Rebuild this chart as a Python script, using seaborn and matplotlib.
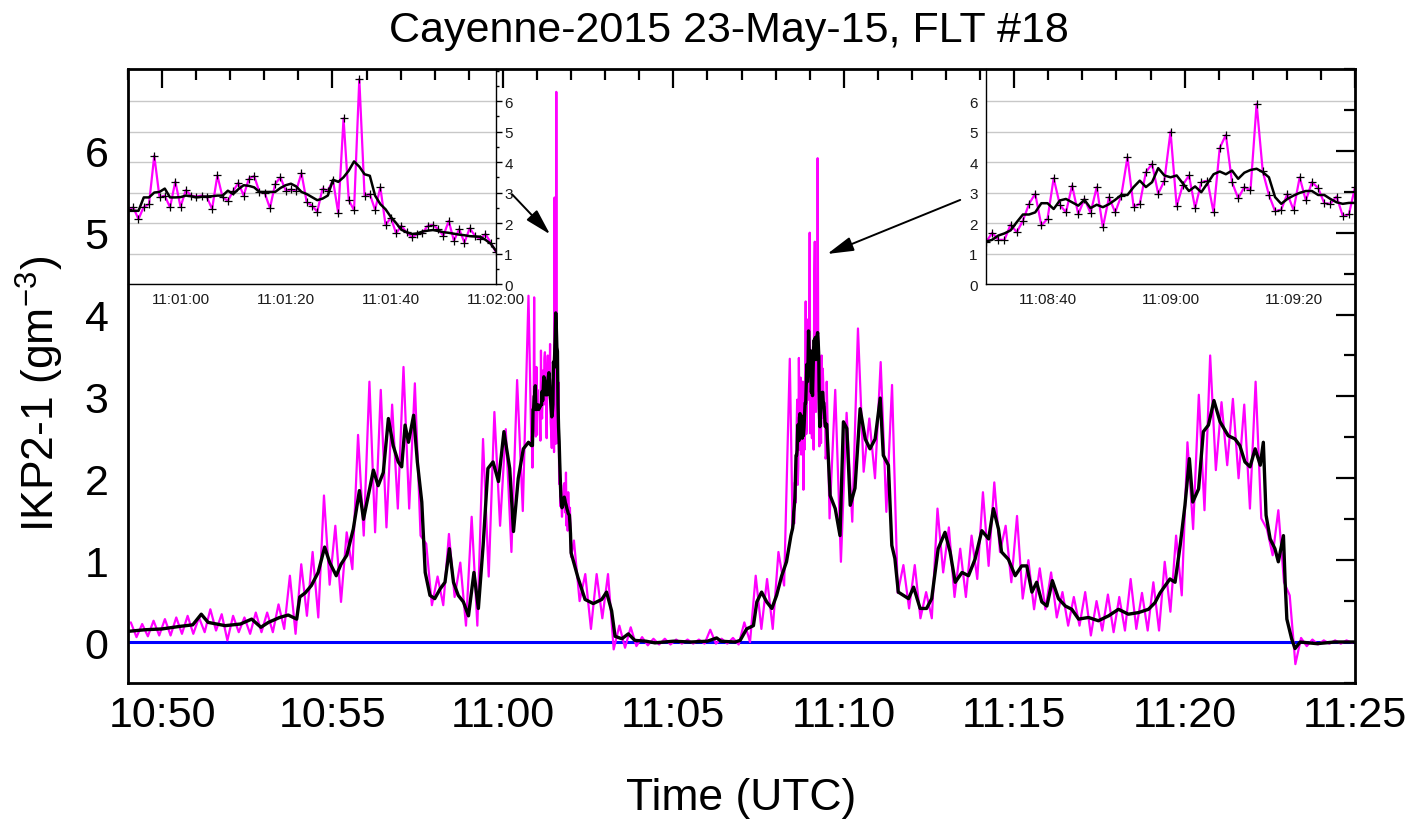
import numpy as np
import pandas as pd
import matplotlib
matplotlib.use("Agg")
import matplotlib.pyplot as plt
import matplotlib.dates as mdates
from matplotlib.ticker import FixedLocator, MultipleLocator
import seaborn as sns

sns.set_theme(style="white")
plt.rcParams["font.family"] = ["Liberation Sans", "DejaVu Sans"]
plt.rcParams["mathtext.fontset"] = "custom"
plt.rcParams["mathtext.rm"] = "Liberation Sans"
plt.rcParams["mathtext.it"] = "Liberation Sans:italic"
plt.rcParams["mathtext.bf"] = "Liberation Sans:bold"
plt.rcParams["text.color"] = "black"
plt.rcParams["axes.labelcolor"] = "black"

MAGENTA = "#FF00FF"
FLIGHT_START = "2015-05-23 10:49:00"

# ---- smoothed IKP2-1 water content (g m^-3), minutes after 10:49:00 ----
smooth_min = [
    0.00, 0.50, 1.00, 1.50, 1.90, 2.15, 2.35, 2.85, 3.30, 3.63, 3.90, 4.12, 4.45, 4.70,
    4.95, 5.04, 5.20, 5.38, 5.58, 5.77, 5.92, 6.11, 6.25, 6.42, 6.61, 6.79, 6.91, 7.05,
    7.20, 7.34, 7.49, 7.64, 7.78, 7.93, 8.03, 8.13, 8.23, 8.38, 8.49, 8.62, 8.72, 8.86,
    9.00, 9.16, 9.30, 9.43, 9.55, 9.69, 9.84, 9.99, 10.15, 10.28, 10.42, 10.56, 10.71,
    10.87, 11.03, 11.20, 11.31, 11.45, 11.60, 11.75,
    13.20, 13.41, 13.65, 13.90, 14.04, 14.19, 14.29, 14.49, 14.68, 14.87, 15.20, 15.46,
    16.00, 16.50, 17.00, 17.27, 17.40, 17.81, 17.96, 18.15, 18.35, 18.45, 18.59, 18.74,
    18.89, 19.03, 19.18, 19.32, 19.45,
    20.60, 20.75, 20.89, 20.99, 21.09, 21.19, 21.33, 21.48, 21.63, 21.77, 21.92, 22.07,
    22.16, 22.31, 22.41, 22.50, 22.60, 22.75, 22.90, 23.05, 23.24, 23.43, 23.58, 23.77,
    23.97, 24.12, 24.27, 24.47, 24.66, 24.85, 25.05, 25.25, 25.39, 25.54, 25.63, 25.83,
    26.03, 26.22, 26.37, 26.52, 26.66, 26.81, 26.96, 27.12, 27.30, 27.50, 27.69, 27.89,
    28.18, 28.47, 28.77, 29.06, 29.35, 29.65, 29.94, 30.13, 30.28, 30.57, 30.72, 30.87,
    31.01, 31.14, 31.24, 31.41, 31.55, 31.70, 31.86, 32.04, 32.28, 32.48, 32.62, 32.77,
    32.92, 33.07, 33.22, 33.31, 33.39, 33.51, 33.65, 33.75, 33.90, 33.95, 34.00, 34.14,
    34.24, 34.39, 34.88, 35.40, 36.00,
]
smooth_val = [
    0.13, 0.15, 0.16, 0.19, 0.21, 0.34, 0.24, 0.20, 0.22, 0.28, 0.18, 0.24, 0.30, 0.33,
    0.28, 0.55, 0.60, 0.69, 0.85, 1.16, 0.97, 0.81, 0.95, 1.06, 1.38, 1.85, 1.50, 1.79,
    2.10, 1.91, 2.07, 2.73, 2.40, 2.20, 2.14, 2.65, 2.44, 2.77, 2.20, 1.71, 0.85, 0.57,
    0.53, 0.65, 0.73, 1.14, 0.73, 0.57, 0.49, 0.32, 0.85, 0.41, 1.18, 2.12, 2.20,
    1.96, 2.57, 2.12, 1.35, 2.00, 2.36, 2.44,
    0.79, 0.52, 0.47, 0.52, 0.61, 0.38, 0.07, 0.04, 0.10, 0.02, 0.01, -0.01,
    0.01, 0.00, 0.01, 0.05, 0.01, 0.00, 0.02, 0.16, 0.20, 0.49, 0.61, 0.49,
    0.41, 0.57, 0.81, 0.98, 1.30,
    1.79, 1.63, 1.30, 2.69, 2.61, 1.67, 1.88, 2.85, 2.48, 2.36, 2.48, 2.98,
    2.28, 2.16, 1.18, 1.02, 0.61, 0.57, 0.53, 0.67, 0.41, 0.41, 0.53, 1.14,
    1.34, 1.10, 0.73, 0.85, 0.81, 1.01, 1.36, 1.26, 1.63, 1.38, 1.10, 1.01,
    0.81, 0.93, 0.93, 0.61, 0.73, 0.49, 0.44, 0.75, 0.53, 0.44, 0.40, 0.28,
    0.30, 0.26, 0.32, 0.40, 0.34, 0.36, 0.40, 0.48, 0.60, 0.77, 0.73, 1.18,
    1.67, 2.24, 1.71, 1.87, 2.57, 2.65, 2.95, 2.69, 2.52, 2.48, 2.40, 2.20,
    2.14, 2.36, 2.16, 2.44, 1.55, 1.26, 1.14, 0.98, 1.30, 0.73, 0.28, 0.04,
    -0.08, 0.00, -0.02, 0.00, 0.00,
]

# ---- raw IKP2-1 signal: high / low excursion in each 20-s window from 10:49:00 ----
raw_hi = [
    0.24, 0.22, 0.26,  0.28, 0.30, 0.32,  0.30, 0.40, 0.34,  0.32, 0.30, 0.36,
    0.36, 0.46, 0.81,  0.95, 1.10, 1.79,  1.42, 1.34, 2.53,  3.18, 3.08, 2.90,
    3.36, 3.16, 1.20,  0.80, 1.32, 0.97,  1.53, 2.48, 2.81,  2.60, 3.20, 4.23,
    3.66, 6.73, 2.10,  1.24, 0.83, 0.83,  0.83, 0.20, 0.18,  0.06, 0.04, 0.04,
    0.03, 0.03, 0.03,  0.15, 0.04, 0.05,  0.24, 0.81, 0.77,  1.10, 3.46, 4.99,
    5.91, 3.22, 3.08,  2.80, 3.83, 2.73,  3.42, 3.14, 0.94,  0.94, 0.61, 1.63,
    1.40, 1.14, 1.30,  1.83, 1.95, 1.42,  1.54, 1.00, 0.90,  0.85, 0.61, 0.55,
    0.61, 0.50, 0.58,  0.55, 0.77, 0.60,  0.73, 0.98, 1.30,  2.44, 3.02, 3.50,
    2.93, 2.97, 2.90,  3.18, 1.38, 1.61,  0.57, 0.05, 0.03,  0.02, 0.02, 0.02,
]
raw_lo = [
    0.06, 0.07, 0.08,  0.08, 0.10, 0.10,  0.12, 0.14, 0.02,  0.12, 0.10, 0.12,
    0.12, 0.16, 0.10,  0.32, 0.30, 0.70,  0.49, 0.89, 1.30,  1.34, 1.40, 1.63,
    1.63, 1.30, 0.45,  0.45, 0.55, 0.20,  0.20, 0.80, 1.42,  1.10, 1.60, 1.79,
    2.46, 2.42, 1.50,  0.50, 0.16, 0.29,  -0.09, -0.07, -0.05,  -0.04, -0.03, -0.03,
    -0.02, -0.02, -0.02,  -0.02, -0.02, -0.03,  0.00, 0.16, 0.16,  0.69, 0.85, 1.88,
    2.36, 1.51, 0.98,  1.47, 2.08, 2.00,  1.59, 0.60, 0.41,  0.29, 0.29, 0.85,
    0.55, 0.55, 0.77,  0.93, 1.10, 0.73,  0.53, 0.40, 0.40,  0.30, 0.20, 0.20,
    0.08, 0.14, 0.12,  0.14, 0.16, 0.14,  0.14, 0.37, 0.57,  1.38, 1.61, 2.10,
    2.16, 2.00, 1.63,  1.51, 1.06, 0.73,  -0.27, -0.05, -0.03,  -0.02, -0.02, -0.01,
]

# ---- 1-Hz segment 11:00:50 - 11:02:00 ----
seg1_start = "2015-05-23 11:00:50"
seg1_raw = [
    2.45, 2.51, 2.13, 2.53, 2.62, 4.21, 2.84, 2.90, 2.51, 3.36, 2.53, 3.08, 2.90, 2.87,
    2.90, 2.85, 2.46, 3.56, 2.84, 2.73, 3.05, 3.32, 2.90, 3.46, 3.54, 3.02, 2.99, 2.49,
    3.28, 3.50, 3.06, 3.10, 3.06, 3.64, 2.68, 2.57, 2.37, 3.13, 3.06, 3.40, 2.32, 5.43,
    2.75, 2.42, 6.72, 2.90, 2.95, 2.43, 3.17, 1.93, 2.18, 1.66, 1.91, 1.69, 1.53, 1.64,
    1.67, 1.91, 1.94, 1.80, 1.58, 2.07, 1.42, 1.80, 1.36, 1.83, 1.58, 1.47, 1.64, 1.36,
    1.04,
]
seg1_smooth = [
    2.40, 2.40, 2.40, 2.84, 2.84, 3.00, 3.02, 3.13, 2.84, 2.84, 2.85, 2.90, 2.88, 2.84,
    2.86, 2.87, 2.88, 2.90, 2.90, 3.06, 2.95, 3.11, 3.24, 3.22, 3.17, 3.02, 3.02, 3.02,
    3.02, 3.15, 3.24, 3.29, 3.20, 3.02, 2.95, 2.85, 2.75, 2.80, 2.90, 3.42, 3.35, 3.50,
    3.72, 4.02, 3.85, 3.60, 3.55, 2.90, 2.62, 2.45, 2.20, 2.00, 1.78, 1.70, 1.64, 1.66,
    1.72, 1.75, 1.77, 1.74, 1.70, 1.68, 1.65, 1.62, 1.60, 1.57, 1.56, 1.55, 1.45, 1.32,
    1.09,
]

# ---- 1-Hz segment 11:08:30 - 11:09:30 ----
seg2_start = "2015-05-23 11:08:30"
seg2_raw = [
    1.37, 1.68, 1.45, 1.45, 1.95, 1.70, 2.08, 2.63, 2.96, 1.92, 2.14, 3.47, 2.60, 2.35,
    3.23, 2.29, 2.79, 2.33, 3.18, 1.86, 2.85, 2.35, 2.90, 4.16, 2.54, 2.63, 3.67, 3.94,
    2.96, 3.39, 5.00, 2.55, 3.25, 3.56, 2.49, 3.34, 3.39, 2.35, 4.46, 4.89, 3.34, 2.81,
    3.18, 3.07, 5.91, 3.69, 2.92, 2.39, 2.44, 2.96, 2.43, 3.50, 2.74, 3.34, 3.15, 2.65,
    2.63, 2.87, 2.24, 2.28, 3.18,
]
seg2_smooth = [
    1.39, 1.45, 1.59, 1.66, 1.76, 2.03, 2.28, 2.28, 2.35, 2.65, 2.65, 2.46, 2.74, 2.79,
    2.68, 2.57, 2.76, 2.49, 2.60, 2.52, 2.62, 2.76, 2.92, 2.92, 3.18, 3.39, 3.18, 3.34,
    3.80, 3.56, 3.50, 3.56, 3.30, 3.05, 3.20, 3.01, 3.30, 3.60, 3.69, 3.60, 3.72, 3.45,
    3.65, 3.74, 3.78, 3.67, 3.50, 2.85, 2.63, 2.79, 2.90, 2.99, 3.05, 3.05, 2.92, 2.92,
    2.79, 2.68, 2.63, 2.66, 2.66,
]

# ---------------------------------------------------------------- frames
t0 = pd.Timestamp(FLIGHT_START)


def one_hz(start, raw, smooth):
    time = pd.Timestamp(start) + pd.to_timedelta(np.arange(len(raw)), unit="s")
    return pd.DataFrame({"time": time, "raw": raw, "smooth": smooth})


seg1 = one_hz(seg1_start, seg1_raw, seg1_smooth)
seg2 = one_hz(seg2_start, seg2_raw, seg2_smooth)
segments = [seg1, seg2]

win = t0 + pd.to_timedelta(np.arange(len(raw_hi)) * 20, unit="s")
raw = pd.DataFrame({
    "time": np.concatenate([win + pd.Timedelta(seconds=5), win + pd.Timedelta(seconds=15)]),
    "value": np.concatenate([raw_hi, raw_lo]),
})
smooth = pd.DataFrame({
    "time": t0 + pd.to_timedelta(np.array(smooth_min) * 60, unit="s"),
    "value": smooth_val,
})
# the 1-Hz segments replace the coarse series over their own time span
for seg in segments:
    inside = raw["time"].between(seg["time"].iloc[0], seg["time"].iloc[-1])
    raw = raw[~inside]
raw = pd.concat([raw] + [s[["time", "raw"]].rename(columns={"raw": "value"}) for s in segments])
raw = raw.sort_values("time").reset_index(drop=True)
smooth = pd.concat([smooth] + [s[["time", "smooth"]].rename(columns={"smooth": "value"}) for s in segments])
smooth = smooth.sort_values("time").reset_index(drop=True)

# ---------------------------------------------------------------- figure
fig = plt.figure(figsize=(14.22, 8.2), dpi=100)
fig.patch.set_facecolor("white")

ax = fig.add_axes([0.0900, 0.1659, 0.8629, 0.7488])
ax.set_zorder(3)
ax.patch.set_alpha(0)

ax.axhline(0, color="#0000FF", lw=2.2, zorder=1)
sns.lineplot(data=raw, x="time", y="value", ax=ax, color=MAGENTA, lw=1.6,
             estimator=None, sort=False, legend=False, zorder=2)
sns.lineplot(data=smooth, x="time", y="value", ax=ax, color="black", lw=2.4,
             estimator=None, sort=False, legend=False, zorder=3)

ax.set_xlim(t0, t0 + pd.Timedelta(minutes=36))
ax.set_ylim(-0.5, 7.0)
ax.xaxis.set_major_locator(mdates.MinuteLocator(byminute=range(0, 60, 5)))
ax.xaxis.set_minor_locator(mdates.MinuteLocator())
ax.xaxis.set_major_formatter(mdates.DateFormatter("%H:%M"))
ax.yaxis.set_major_locator(FixedLocator([0, 1, 2, 3, 4, 5, 6]))
ax.yaxis.set_minor_locator(MultipleLocator(0.5))
ax.tick_params(which="both", direction="in", top=True, right=True, width=1.6,
               color="black", labelsize=31, labelcolor="black")
ax.tick_params(which="major", length=14)
ax.tick_params(which="minor", length=8)
ax.tick_params(axis="x", pad=9)
ax.tick_params(axis="y", pad=14)
for sp in ax.spines.values():
    sp.set_color("black")
    sp.set_linewidth(2.0)
ax.set_xlabel("Time (UTC)", fontsize=32, labelpad=30, color="black")
ax.set_ylabel("")
fig.text(0.028, 0.52, "IKP2-1 (gm$^{-3}$)", rotation=90, ha="center", va="center",
         fontsize=32, color="black")
fig.text(0.5127, 0.962, "Cayenne-2015 23-May-15, FLT #18", ha="center", va="center",
         fontsize=31, color="black")


# ---------------------------------------------------------------- insets
def draw_inset(rect, seg, side):
    axi = fig.add_axes(rect)
    axi.set_zorder(1)
    axi.set_facecolor("white")
    sns.lineplot(data=seg, x="time", y="raw", ax=axi, color=MAGENTA, lw=1.6,
                 estimator=None, legend=False)
    sns.lineplot(data=seg, x="time", y="smooth", ax=axi, color="black", lw=1.8,
                 estimator=None, legend=False)
    sns.scatterplot(data=seg, x="time", y="raw", ax=axi, marker="+", s=40,
                    color="black", linewidth=0.9, legend=False, zorder=5)
    axi.set_xlim(seg["time"].iloc[0], seg["time"].iloc[-1])
    axi.set_ylim(0, 7.05)
    axi.xaxis.set_major_locator(mdates.SecondLocator(bysecond=[0, 20, 40]))
    axi.xaxis.set_minor_locator(mdates.SecondLocator(bysecond=[10, 30, 50]))
    axi.xaxis.set_major_formatter(mdates.DateFormatter("%H:%M:%S"))
    axi.yaxis.set_major_locator(FixedLocator([0, 1, 2, 3, 4, 5, 6]))
    axi.yaxis.set_minor_locator(MultipleLocator(0.5))
    axi.grid(False)
    axi.yaxis.grid(True, which="major", color="#C8C8C8", lw=1.0)
    axi.set_axisbelow(True)
    axi.set_xlabel("")
    axi.set_ylabel("")
    axi.tick_params(which="both", direction="out", width=1.0, color="black",
                    labelsize=11, labelcolor="#1a1a1a", pad=2)
    axi.tick_params(which="major", length=4)
    axi.tick_params(which="minor", length=2.5)
    if side == "right":
        axi.yaxis.tick_right()
        keep = ("bottom", "right")
    else:
        keep = ("bottom", "left")
    for name, sp in axi.spines.items():
        sp.set_visible(name in keep)
        sp.set_color("black")
        sp.set_linewidth(1.0)
    return axi


draw_inset([0.0900, 0.6524, 0.2588, 0.2622], seg1, "right")
draw_inset([0.6934, 0.6524, 0.2595, 0.2622], seg2, "left")

# arrows from the zoomed windows to the spikes they show
arrow = dict(arrowstyle="-|>,head_length=0.8,head_width=0.22", color="black",
             lw=1.4, mutation_scale=20, shrinkA=0, shrinkB=0)
ax.annotate("", xy=(mdates.date2num(pd.Timestamp("2015-05-23 11:01:23")), 4.98),
            xytext=(mdates.date2num(pd.Timestamp("2015-05-23 11:00:16")), 5.47),
            arrowprops=arrow, annotation_clip=False)
ax.annotate("", xy=(mdates.date2num(pd.Timestamp("2015-05-23 11:09:31")), 4.74),
            xytext=(mdates.date2num(pd.Timestamp("2015-05-23 11:13:25")), 5.40),
            arrowprops=arrow, annotation_clip=False)

fig.savefig("out.png", dpi=100, facecolor="white")
